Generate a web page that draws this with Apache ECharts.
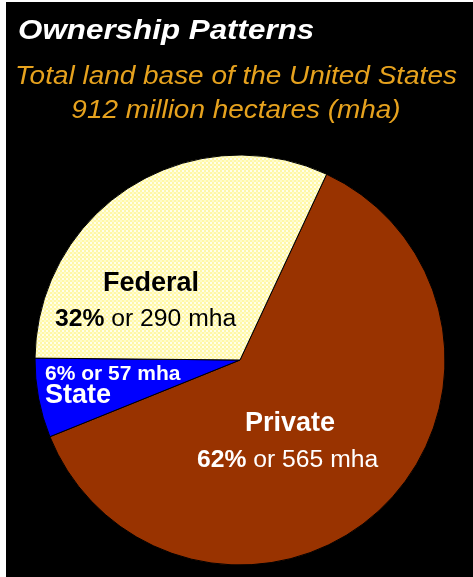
<!DOCTYPE html>
<html>
<head>
<meta charset="utf-8">
<script src="https://cdn.jsdelivr.net/npm/echarts@6/dist/echarts.min.js"></script>
<style>
html,body{margin:0;padding:0;background:#fff;width:473px;height:577px;overflow:hidden;}
#chart{position:absolute;left:6px;top:2px;width:467px;height:575px;background:#000;}
</style>
</head>
<body>
<div id="chart"></div>
<script>
// Data
const categories = ['Private', 'State', 'Federal'];
const percents = [62, 6, 32];
const mhaValues = [565, 57, 290];
const titleText = 'Ownership Patterns';
const subtitleLines = ['Total land base of the United States', '912 million hectares (mha)'];

const FONT = '"Liberation Sans", Arial, sans-serif';
const OX = 6, OY = 2; // container offset

// checkered pale-yellow pattern for Federal
const pat = document.createElement('canvas');
pat.width = 4; pat.height = 4;
const pctx = pat.getContext('2d');
pctx.fillStyle = '#FFF7A6';
pctx.fillRect(0, 0, 4, 4);
pctx.fillStyle = '#FFFFEC';
pctx.fillRect(0, 0, 2, 2);
pctx.fillStyle = '#FFFCCB';
pctx.fillRect(2, 2, 2, 2);

const colors = {
  Private: '#993300',
  State: '#0000FF',
  Federal: { image: pat, repeat: 'repeat' }
};

const chart = echarts.init(document.getElementById('chart'), null, { renderer: 'canvas' });

function txt(text, x, y, size, color, weight, style, align, sx) {
  return {
    type: 'text', x: x - OX, y: y - OY, silent: true, z: 100, scaleX: sx || 1,
    style: {
      text: text, fill: color, font: (style || 'normal') + ' ' + (weight || 'normal') + ' ' + size + 'px ' + FONT,
      align: align || 'left', verticalAlign: 'middle'
    }
  };
}
function richTxt(pct, mha, x, y, size, color, boldAll, sx) {
  return {
    type: 'text', x: x - OX, y: y - OY, silent: true, z: 100, scaleX: sx || 1,
    style: {
      text: '{b|' + pct + '%}{n| or ' + mha + ' mha}',
      align: 'left', verticalAlign: 'middle',
      rich: {
        b: { fill: color, fontSize: size, fontWeight: 'bold', fontFamily: FONT },
        n: { fill: color, fontSize: size, fontWeight: boldAll ? 'bold' : 'normal', fontFamily: FONT }
      }
    }
  };
}

const iP = categories.indexOf('Private');
const iS = categories.indexOf('State');
const iF = categories.indexOf('Federal');

const option = {
  backgroundColor: '#000',
  animation: false,
  series: [{
    type: 'pie',
    center: [240 - OX, 360 - OY],
    radius: [0, 205],
    startAngle: 65,
    clockwise: true,
    z: 2,
    label: { show: false },
    labelLine: { show: false },
    emphasis: { disabled: true },
    itemStyle: { borderColor: '#000', borderWidth: 1 },
    data: categories.map((c, i) => ({ name: c, value: mhaValues[i], itemStyle: { color: colors[c] } }))
  }],
  graphic: {
    elements: [
      txt(titleText, 18, 31, 28, '#FFFFFF', 'bold', 'italic', 'left', 1.12),
      txt(subtitleLines[0], 236, 77, 26, '#E6A21E', 'normal', 'italic', 'center', 1.075),
      txt(subtitleLines[1], 236, 111, 26, '#E6A21E', 'normal', 'italic', 'center', 1.075),
      txt(categories[iF], 103, 284, 27, '#000000', 'bold'),
      richTxt(percents[iF], mhaValues[iF], 55, 319, 24.7, '#000000', false),
      richTxt(percents[iS], mhaValues[iS], 45, 374, 21, '#FFFFFF', true),
      txt(categories[iS], 45, 396, 27, '#FFFFFF', 'bold'),
      txt(categories[iP], 245, 424, 27, '#FFFFFF', 'bold'),
      richTxt(percents[iP], mhaValues[iP], 197, 460, 24.7, '#FFFFFF', false)
    ]
  }
};
chart.setOption(option);
</script>
</body>
</html>
